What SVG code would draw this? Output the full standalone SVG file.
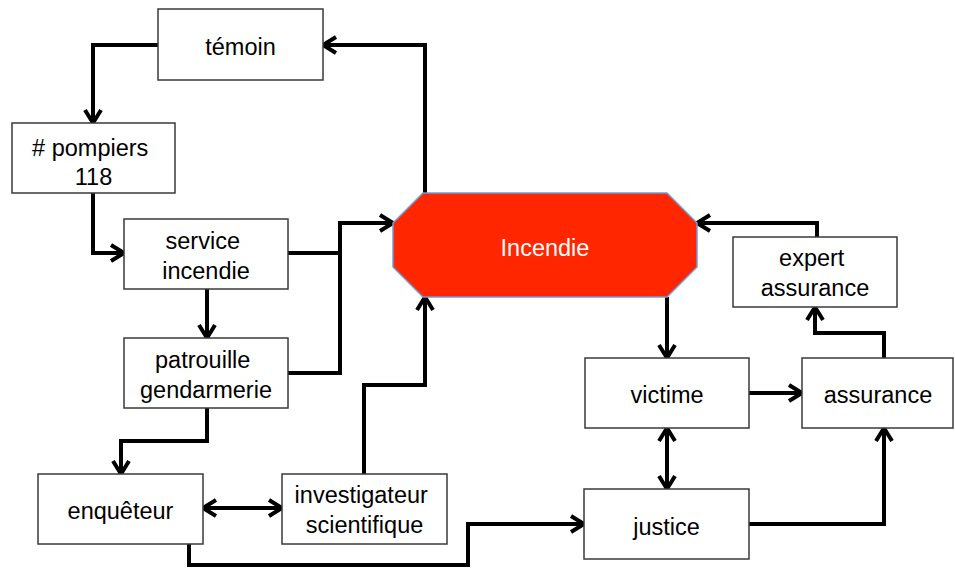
<svg xmlns="http://www.w3.org/2000/svg" width="955" height="569" viewBox="0 0 955 569">
  <defs>
    <style>
      .box { fill: #ffffff; stroke: #3a3a3a; stroke-width: 1.5; }
      .lbl { font-family: "Liberation Sans", Arial, sans-serif; font-size: 23.5px; fill: #000000; text-anchor: middle; }
      .link { fill: none; stroke: #000000; stroke-width: 4; stroke-linejoin: miter; }
    </style>
    <marker id="arr" viewBox="-16 -11 18 22" refX="0" refY="0" markerWidth="18" markerHeight="22" markerUnits="userSpaceOnUse" orient="auto-start-reverse" overflow="visible">
      <path d="M-13,-8 L0,0 L-13,8" fill="none" stroke="#000000" stroke-width="4" stroke-linejoin="miter"/>
    </marker>
  </defs>
  <rect width="955" height="569" fill="#ffffff"/>

  <g id="connectors">
    <!-- témoin -> # pompiers -->
    <path class="link" d="M158,45 H93 V123" marker-end="url(#arr)"/>
    <!-- Incendie -> témoin -->
    <path class="link" d="M425,193 V45 H323" marker-end="url(#arr)"/>
    <!-- # pompiers -> service incendie -->
    <path class="link" d="M93,193 V253 H124" marker-end="url(#arr)"/>
    <!-- service incendie -> patrouille gendarmerie -->
    <path class="link" d="M207,289 V338" marker-end="url(#arr)"/>
    <!-- service incendie -> Incendie -->
    <path class="link" d="M288,253 H340"/>
    <!-- patrouille gendarmerie -> Incendie -->
    <path class="link" d="M288,373 H340 V223 H393" marker-end="url(#arr)"/>
    <!-- patrouille gendarmerie -> enquêteur -->
    <path class="link" d="M207,408 V441 H121 V474" marker-end="url(#arr)"/>
    <!-- enquêteur <-> investigateur scientifique -->
    <path class="link" d="M203,508 H282" marker-start="url(#arr)" marker-end="url(#arr)"/>
    <!-- investigateur scientifique -> Incendie -->
    <path class="link" d="M364,474 V385 H425 V297" marker-end="url(#arr)"/>
    <!-- enquêteur -> justice -->
    <path class="link" d="M189,544 V565 H468 V524 H584" marker-end="url(#arr)"/>
    <!-- Incendie -> victime -->
    <path class="link" d="M667,297 V358" marker-end="url(#arr)"/>
    <!-- victime <-> justice -->
    <path class="link" d="M667,428 V489" marker-start="url(#arr)" marker-end="url(#arr)"/>
    <!-- victime -> assurance -->
    <path class="link" d="M749,393 H802" marker-end="url(#arr)"/>
    <!-- justice -> assurance -->
    <path class="link" d="M749,524 H884 V428" marker-end="url(#arr)"/>
    <!-- assurance -> expert assurance -->
    <path class="link" d="M884,358 V333 H815 V307" marker-end="url(#arr)"/>
    <!-- expert assurance -> Incendie -->
    <path class="link" d="M817,237 V223 H697" marker-end="url(#arr)"/>
  </g>

  <g id="incendie">
    <polygon points="423,193 667,193 697,223 697,267 667,297 423,297 393,267 393,223" fill="#ff2600" stroke="#6f9fd2" stroke-width="1.5"/>
    <text class="lbl" x="545" y="256" style="fill:#ffffff">Incendie</text>
  </g>

  <g id="temoin">
    <rect class="box" x="158" y="9" width="165" height="71"/>
    <text class="lbl" x="240.5" y="55">témoin</text>
  </g>

  <g id="pompiers">
    <rect class="box" x="12" y="123" width="163" height="70"/>
    <text class="lbl" x="93.5" y="156">
      <tspan x="93.5">&#35; pompiers</tspan>
      <tspan x="93.5" dy="29">118</tspan>
    </text>
  </g>

  <g id="service-incendie">
    <rect class="box" x="124" y="219" width="164" height="70"/>
    <text class="lbl" x="206" y="249">
      <tspan x="206">service</tspan>
      <tspan x="206" dy="30">incendie</tspan>
    </text>
  </g>

  <g id="patrouille-gendarmerie">
    <rect class="box" x="124" y="338" width="164" height="70"/>
    <text class="lbl" x="206" y="368">
      <tspan x="206">patrouille</tspan>
      <tspan x="206" dy="30">gendarmerie</tspan>
    </text>
  </g>

  <g id="enqueteur">
    <rect class="box" x="38" y="474" width="165" height="70"/>
    <text class="lbl" x="120.5" y="519">enquêteur</text>
  </g>

  <g id="investigateur-scientifique">
    <rect class="box" x="282" y="474" width="165" height="70"/>
    <text class="lbl" x="364.5" y="503">
      <tspan x="364.5">investigateur</tspan>
      <tspan x="364.5" dy="30">scientifique</tspan>
    </text>
  </g>

  <g id="victime">
    <rect class="box" x="585" y="358" width="164" height="70"/>
    <text class="lbl" x="667" y="403">victime</text>
  </g>

  <g id="justice">
    <rect class="box" x="584" y="489" width="165" height="70"/>
    <text class="lbl" x="666.5" y="535">justice</text>
  </g>

  <g id="assurance">
    <rect class="box" x="802" y="358" width="151" height="70"/>
    <text class="lbl" x="878" y="403">assurance</text>
  </g>

  <g id="expert-assurance">
    <rect class="box" x="733" y="237" width="164" height="70"/>
    <text class="lbl" x="815" y="266">
      <tspan x="815">expert</tspan>
      <tspan x="815" dy="30">assurance</tspan>
    </text>
  </g>
</svg>
